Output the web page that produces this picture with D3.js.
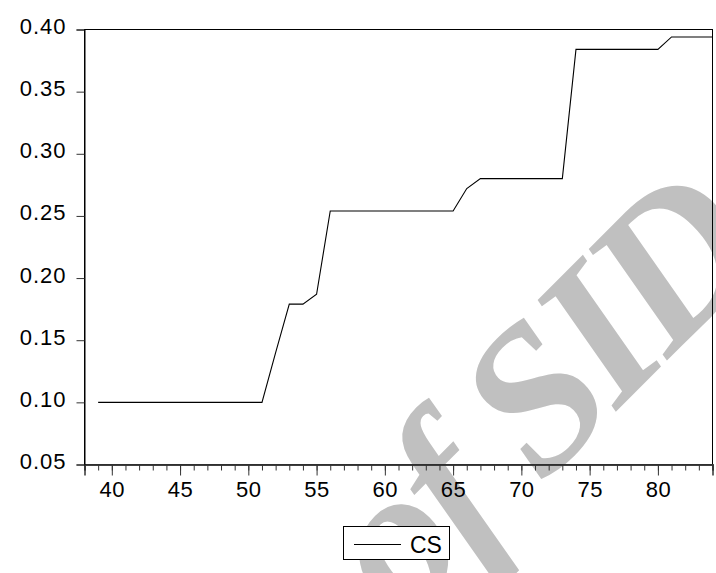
<!DOCTYPE html>
<html>
<head>
<meta charset="utf-8">
<script src="https://cdn.jsdelivr.net/npm/d3@7/dist/d3.min.js"></script>
<style>
  html, body { margin: 0; padding: 0; background: #ffffff; }
  svg { display: block; }
</style>
</head>
<body>
<svg id="chart" width="716" height="573"></svg>
<script>
// ---- data ----
const xValues = [39, 40, 41, 42, 43, 44, 45, 46, 47, 48, 49, 50, 51, 52, 53, 54, 55, 56, 57, 58, 59, 60,
                 61, 62, 63, 64, 65, 66, 67, 68, 69, 70, 71, 72, 73, 74, 75, 76, 77, 78, 79, 80, 81, 82, 83, 84];
const csValues = [0.100, 0.100, 0.100, 0.100, 0.100, 0.100, 0.100, 0.100, 0.100, 0.100, 0.100, 0.100, 0.100,
                  0.140, 0.179, 0.179, 0.187,
                  0.254, 0.254, 0.254, 0.254, 0.254, 0.254, 0.254, 0.254, 0.254, 0.254,
                  0.272,
                  0.280, 0.280, 0.280, 0.280, 0.280, 0.280, 0.280,
                  0.384, 0.384, 0.384, 0.384, 0.384, 0.384, 0.384,
                  0.394, 0.394, 0.394, 0.394];
const xMajorTicks = [40, 45, 50, 55, 60, 65, 70, 75, 80];
const xMinorTicks = [38, 39, 40, 41, 42, 43, 44, 45, 46, 47, 48, 49, 50, 51, 52, 53, 54, 55, 56, 57, 58, 59, 60, 61,
                     62, 63, 64, 65, 66, 67, 68, 69, 70, 71, 72, 73, 74, 75, 76, 77, 78, 79, 80, 81, 82, 83, 84];
const yTicks = [0.05, 0.10, 0.15, 0.20, 0.25, 0.30, 0.35, 0.40];
const xDomain = [38, 84];
const yDomain = [0.05, 0.40];
const seriesName = "CS";
const watermarkText = "of SID";

// ---- layout ----
const W = 716, H = 573;
const plot = { left: 84.5, right: 712.5, top: 29.5, bottom: 464.5 };

const svg = d3.select("#chart");
const x = d3.scaleLinear().domain(xDomain).range([plot.left, plot.right]);
const y = d3.scaleLinear().domain(yDomain).range([plot.bottom, plot.top]);

// watermark (behind everything)
const wmSize = 205;
const wm = svg.append("g").attr("transform", "translate(532,400) rotate(-45)");
const wmText = wm.append("text")
  .attr("font-family", "'Liberation Serif', 'DejaVu Serif', serif")
  .attr("font-style", "italic")
  .attr("font-weight", "bold")
  .attr("font-size", wmSize)
  .attr("letter-spacing", "-8px")
  .attr("fill", "#c0c0c0")
  .text(watermarkText);
try {
  const node = wmText.node();
  const wOf = node.getSubStringLength(0, 3);
  const wS = node.getSubStringLength(3, 1);
  wmText.attr("x", -(wOf + wS / 2)).attr("y", 0.33 * wmSize);
} catch (e) {
  wmText.attr("x", -150).attr("y", 0.33 * wmSize);
}

// frame
svg.append("rect")
  .attr("x", plot.left).attr("y", plot.top)
  .attr("width", plot.right - plot.left).attr("height", plot.bottom - plot.top)
  .attr("fill", "none").attr("stroke", "#000").attr("stroke-width", 1);

// x axis (major + minor ticks, outward)
const xAxisMinor = d3.axisBottom(x).tickValues(xMinorTicks).tickSize(6).tickFormat("");
const gxMinor = svg.append("g").attr("transform", `translate(0,${plot.bottom})`).call(xAxisMinor);
const xAxisMajor = d3.axisBottom(x).tickValues(xMajorTicks).tickSize(11).tickPadding(10).tickFormat(d3.format("d"));
const gx = svg.append("g").attr("transform", `translate(0,${plot.bottom})`).call(xAxisMajor);
[gxMinor, gx].forEach(g => {
  g.select(".domain").attr("stroke", "#333").attr("stroke-width", 1.5);
  g.selectAll(".tick line").attr("stroke", "#333");
});
gx.selectAll(".tick text")
  .attr("font-family", "'Liberation Sans', Arial, sans-serif")
  .attr("font-size", 22)
  .attr("letter-spacing", "0.5px")
  .attr("fill", "#000")
  .attr("dy", null)
  .attr("y", 32);

// y axis
const yAxis = d3.axisLeft(y).tickValues(yTicks).tickSize(8).tickPadding(10).tickFormat(d3.format(".2f"));
const gy = svg.append("g").attr("transform", `translate(${plot.left},0)`).call(yAxis);
gy.select(".domain").attr("stroke", "#000");
gy.selectAll(".tick line").attr("stroke", "#333");
gy.selectAll(".tick text")
  .attr("font-family", "'Liberation Sans', Arial, sans-serif")
  .attr("font-size", 22)
  .attr("letter-spacing", "1px")
  .attr("fill", "#000")
  .attr("dy", null)
  .attr("y", 4)
  .attr("x", -18);

// line
const line = d3.line().x((d, i) => x(xValues[i])).y(d => y(d));
svg.append("path")
  .datum(csValues)
  .attr("d", line)
  .attr("fill", "none")
  .attr("stroke", "#000")
  .attr("stroke-width", 1.1);

// legend
const lg = svg.append("g");
lg.append("rect").attr("x", 343.5).attr("y", 526.5).attr("width", 106).attr("height", 33)
  .attr("fill", "#fff").attr("stroke", "#000").attr("stroke-width", 1);
lg.append("line").attr("x1", 354).attr("x2", 401).attr("y1", 544.5).attr("y2", 544.5)
  .attr("stroke", "#000").attr("stroke-width", 1);
lg.append("text").attr("x", 410).attr("y", 553)
  .attr("font-family", "'Liberation Sans', Arial, sans-serif")
  .attr("font-size", 23).attr("fill", "#000")
  .text(seriesName);
</script>
</body>
</html>
